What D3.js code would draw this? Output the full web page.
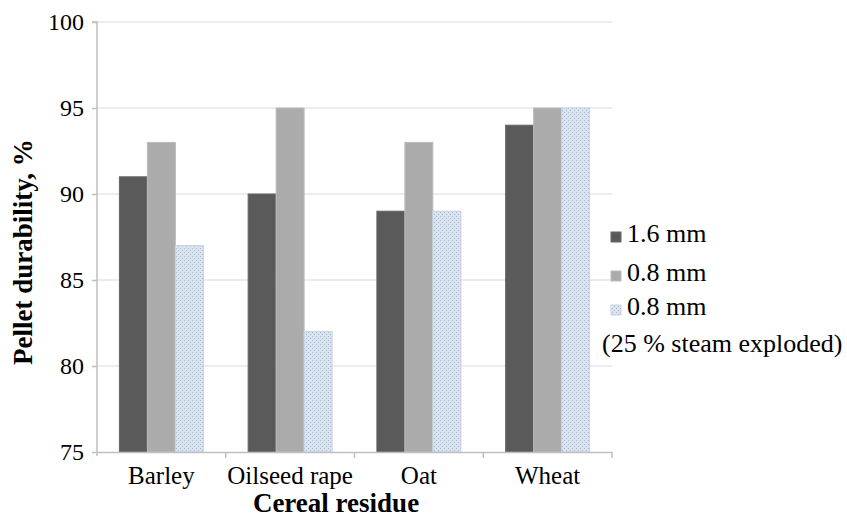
<!DOCTYPE html>
<html><head><meta charset="utf-8">
<script src="https://cdn.jsdelivr.net/npm/d3@7"></script>
<style>body{margin:0;background:#fff}svg{display:block}</style>
</head><body>
<script>
const categories = ["Barley", "Oilseed rape", "Oat", "Wheat"];
const seriesNames = ["1.6 mm", "0.8 mm", "0.8 mm"];
const s16 = [91, 90, 89, 94];
const s08 = [93, 95, 93, 95];
const s08steam = [87, 82, 89, 95];
const yTicks = [75, 80, 85, 90, 95, 100];

const FF = "Liberation Serif";
const W = 847, H = 519;
const m = {left: 97, right: 235, top: 22, bottom: 67};
const svg = d3.select("body").append("svg").attr("width", W).attr("height", H).attr("font-family", FF);
const defs = svg.append("defs");
const pat = defs.append("pattern").attr("id","dots").attr("width",4).attr("height",4).attr("patternUnits","userSpaceOnUse");
pat.append("rect").attr("width",4).attr("height",4).attr("fill","#d9e4f0");
pat.append("rect").attr("x",0).attr("y",0).attr("width",1).attr("height",1).attr("fill","#a8b8cb");
pat.append("rect").attr("x",2).attr("y",2).attr("width",1).attr("height",1).attr("fill","#a8b8cb");

const x0 = d3.scaleBand().domain(categories).range([m.left, W - m.right]);
const x1 = d3.scaleBand().domain([0,1,2]).range([0, x0.bandwidth()]).paddingInner(0).paddingOuter(0.8);
const y = d3.scaleLinear().domain([75, 100]).range([H - m.bottom, m.top]);

// gridlines
svg.append("g").selectAll("line").data(yTicks.slice(1)).join("line")
  .attr("x1", m.left).attr("x2", W - m.right)
  .attr("y1", d => y(d)).attr("y2", d => y(d))
  .attr("stroke", "#e6e6e6").attr("stroke-width", 1.5);

const fills = ["#5a5a5a", "#ababab", "url(#dots)"];
const strokes = ["#666", "#bdbdbd", "#c8d3df"];
const data = [s16, s08, s08steam];
categories.forEach((c, i) => {
  data.forEach((arr, j) => {
    svg.append("rect")
      .attr("x", x0(c) + x1(j)).attr("width", x1.bandwidth())
      .attr("y", y(arr[i])).attr("height", y(75) - y(arr[i]))
      .attr("fill", fills[j]).attr("stroke", strokes[j]).attr("stroke-width", 1);
  });
});

// axes
const yAxis = d3.axisLeft(y).tickValues(yTicks).tickSize(5).tickPadding(8);
const gy = svg.append("g").attr("transform", `translate(${m.left},0)`).call(yAxis).attr("font-family", FF);
gy.select(".domain").attr("stroke", "#bfbfbf").attr("stroke-width", 1.5).attr("d", `M-5,${y(100)}H0V${y(75)+4}`);
gy.selectAll(".tick line").attr("stroke", "#bfbfbf").attr("stroke-width", 1.5);
gy.selectAll(".tick text").attr("font-size", 24).attr("fill", "#000").attr("font-family", FF);

const xAxis = d3.axisBottom(x0).tickSize(0).tickPadding(14);
const gx = svg.append("g").attr("transform", `translate(0,${y(75)})`).call(xAxis).attr("font-family", FF);
gx.select(".domain").attr("stroke", "#bfbfbf").attr("stroke-width", 1.5);
gx.selectAll(".tick text").attr("font-size", 25).attr("fill", "#000").attr("font-family", FF);
// category separators
gx.append("g").selectAll("line").data(categories.slice(1).concat(["_end"])).join("line")
  .attr("x1", d => d === "_end" ? W - m.right : x0(d)).attr("x2", d => d === "_end" ? W - m.right : x0(d))
  .attr("y1", 0).attr("y2", 6).attr("stroke", "#bfbfbf").attr("stroke-width", 1.5);

// titles
svg.append("text").attr("x", 336).attr("y", 512).attr("font-family", FF)
  .attr("text-anchor", "middle").attr("font-size", 27).attr("font-weight", "bold").text("Cereal residue");
svg.append("text").attr("transform", `translate(32,252) rotate(-90)`).attr("font-family", FF)
  .attr("text-anchor", "middle").attr("font-size", 27).attr("font-weight", "bold").text("Pellet durability, %");

// legend
const lg = svg.append("g").attr("font-family", FF);
const lx = 611, lb = [242, 281, 315];
seriesNames.forEach((n, j) => {
  lg.append("rect").attr("x", lx).attr("y", lb[j] - 10).attr("width", 10).attr("height", 10)
    .attr("fill", fills[j]).attr("stroke", strokes[j]);
  lg.append("text").attr("x", lx + 16).attr("y", lb[j]).attr("font-size", 26).attr("font-family", FF).text(n);
});
lg.append("text").attr("x", 602).attr("y", 352).attr("font-size", 26).attr("font-family", FF).text("(25 % steam exploded)");
</script>
</body></html>
